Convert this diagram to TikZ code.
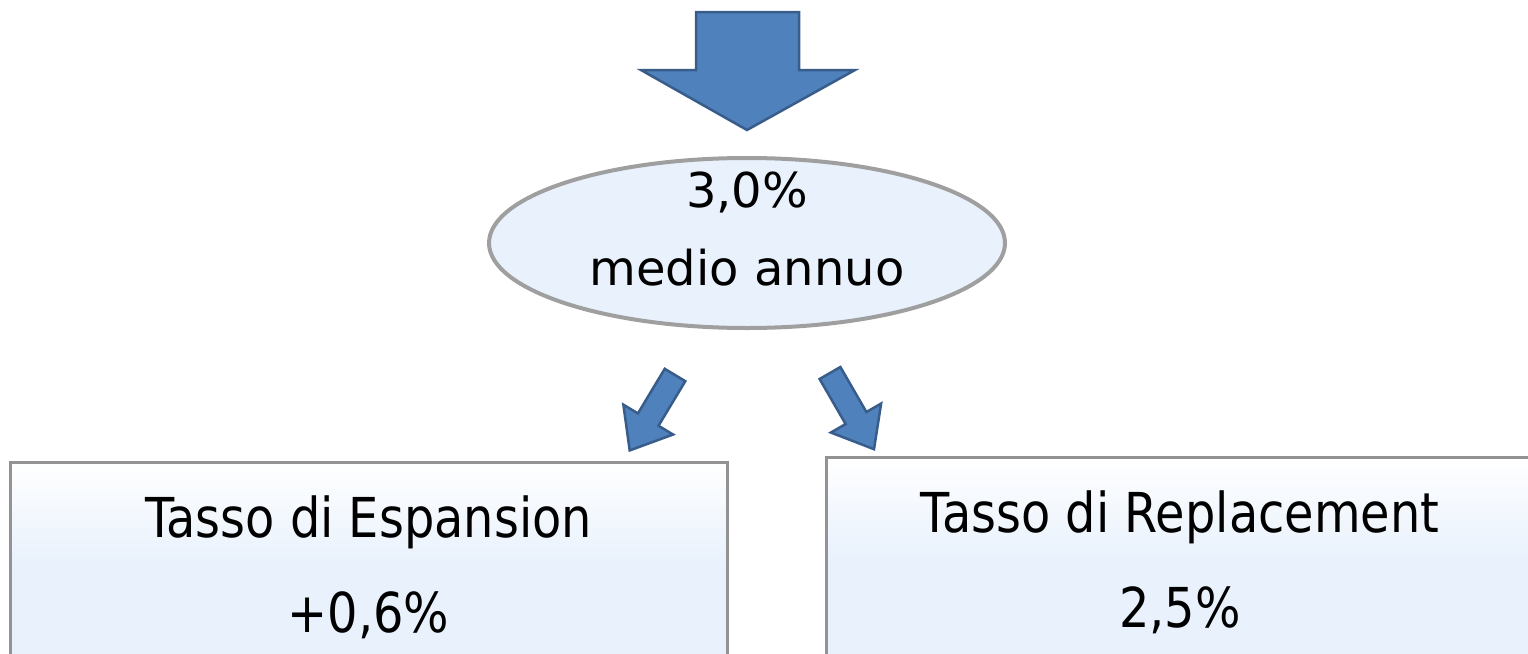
\documentclass[tikz,border=0pt]{standalone}
\usepackage{fontspec}
\setmainfont{DejaVu Sans}
\newfontfamily\boxfont[FakeStretch=0.87]{DejaVu Sans}
\usetikzlibrary{shapes.geometric}

\definecolor{arrowfill}{RGB}{79,129,189}
\definecolor{arrowline}{RGB}{56,93,138}
\definecolor{paleblue}{RGB}{232,241,252}

\tikzset{
  blockarrow/.style={draw=arrowline, fill=arrowfill, line width=2.5pt, line join=miter},
  ratebox/.style={draw=gray!85, line width=3pt, top color=white, bottom color=paleblue,
    middle color=paleblue, rectangle, align=center, inner sep=0pt,
    font=\boxfont\fontsize{55}{95}\selectfont},
  meanoval/.style={ellipse, draw=gray!75, line width=4pt, fill=paleblue, inner sep=0pt},
  meanlabel/.style={align=center, inner sep=0pt, font=\fontsize{48}{78}\selectfont}
}

\begin{document}
\begin{tikzpicture}[x=1pt,y=1pt,yscale=-1,xscale=1]
\useasboundingbox (0,0) rectangle (1528,653);

% big arrow on top
\draw [blockarrow] (696,12) -- (799,12) -- (799,70) -- (855,70) -- (747,130) -- (641,70) -- (696,70) -- cycle;

% mean value
\node [meanoval, minimum width=516, minimum height=170] (mean) at (747,243) {};
\node [meanlabel] (meantext) at (747,229) {3,0\%\\medio annuo};

% small arrows towards the two rates
\coordinate (lstart) at (675,375);
\coordinate (rstart) at (830,373);
\draw [blockarrow, shift={(lstart)}, rotate=121] (0,-12) -- (52,-12) -- (52,-29) -- (88,0) -- (52,29) -- (52,12) -- (0,12) -- cycle;
\draw [blockarrow, shift={(rstart)}, rotate=60] (0,-12) -- (52,-12) -- (52,-29) -- (88,0) -- (52,29) -- (52,12) -- (0,12) -- cycle;

% the two rates
\node [ratebox, minimum width=717, minimum height=210] (expansion) at (368.5,567) {Tasso di Espansion\\+0,6\%};
\node [ratebox, minimum width=708, minimum height=210] (replacement) at (1180,562) {Tasso di Replacement\\2,5\%};
\end{tikzpicture}
\end{document}
